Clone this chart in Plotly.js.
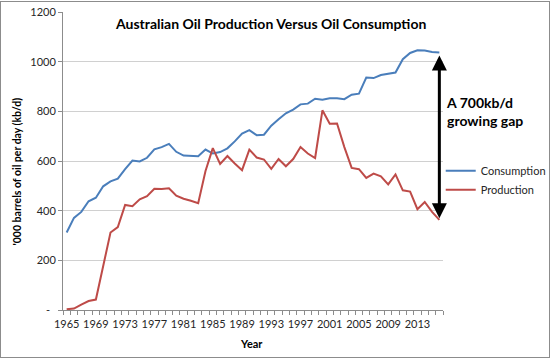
<!DOCTYPE html>
<html>
<head>
<meta charset="utf-8">
<script src="https://cdn.plot.ly/plotly-3.0.1.min.js"></script>
<style>
  html, body { margin: 0; padding: 0; background: #fff; }
  #wrap { position: relative; width: 552px; height: 360px; }
  #chart { width: 552px; height: 360px; }
  #frame { position: absolute; left: 0; top: 1px; width: 548px; height: 355px; border: 1px solid #8c8c8c; pointer-events: none; }
</style>
</head>
<body>
<div id="wrap"><div id="chart"></div><div id="frame"></div></div>
<script>
const years = [];
for (let y = 1965; y <= 2016; y++) years.push(y);

const consumption = [312, 371, 395, 438, 452, 498, 518, 529, 567, 602,
  598, 613, 647, 656, 669, 637, 622, 620, 619, 646,
  630, 636, 651, 679, 710, 724, 704, 706, 742, 768,
  792, 807, 828, 831, 851, 847, 853, 853, 849, 867,
  871, 936, 934, 946, 952, 956, 1010, 1035, 1046, 1045,
  1039, 1037];

const production = [3, 6, 22, 36, 42, 177, 312, 334, 423, 418,
  446, 458, 488, 487, 490, 460, 448, 440, 430, 560,
  652, 588, 620, 590, 563, 646, 614, 606, 568, 608,
  579, 608, 656, 630, 612, 804, 750, 751, 656, 572,
  567, 532, 549, 538, 506, 546, 482, 477, 406, 435,
  395, 363];

const xTickVals = [1965, 1969, 1973, 1977, 1981, 1985, 1989, 1993, 1997, 2001, 2005, 2009, 2013];
const yTickVals = [0, 200, 400, 600, 800, 1000, 1200];
const yTickText = ['-\u00a0\u00a0', '200', '400', '600', '800', '1000', '1200'];

const titleText = 'Australian Oil Production Versus Oil Consumption';
const gapText = 'A 700kb/d<br>growing gap';
const xTitle = 'Year';
const yTitle = "'000 barrels of oil per day (kb/d)";

const FONT = 'Lato, "Open Sans", sans-serif';
const TXT = '#262626';
const last = years.length - 1;

const traces = [
  { x: years, y: consumption, name: 'Consumption', type: 'scatter', mode: 'lines',
    line: { color: '#4A7EBB', width: 2 } },
  { x: years, y: production, name: 'Production', type: 'scatter', mode: 'lines',
    line: { color: '#BE4B48', width: 2 } }
];

const layout = {
  width: 552, height: 360,
  margin: { l: 63, r: 109, t: 12, b: 50, autoexpand: false },
  paper_bgcolor: '#fff', plot_bgcolor: '#fff',
  font: { family: FONT, color: TXT, size: 11 },
  showlegend: true,
  legend: { x: 0.994, xanchor: 'left', y: 0.435, yanchor: 'middle',
    font: { family: FONT, size: 11, color: TXT }, tracegroupgap: 0, itemwidth: 30,
    bgcolor: 'rgba(0,0,0,0)' },
  xaxis: {
    range: [1964.5, 2016.5], tickmode: 'array', tickvals: xTickVals, tickangle: 0,
    ticks: 'outside', ticklen: 4, tickcolor: 'rgba(0,0,0,0)',
    tickfont: { family: FONT, size: 11, color: TXT },
    showgrid: false, zeroline: false, showline: true, linecolor: '#8c8c8c', linewidth: 1,
    minor: { ticks: 'outside', tick0: 1964.5, dtick: 1, ticklen: 4, tickcolor: '#8c8c8c', showgrid: false },
    fixedrange: true
  },
  yaxis: {
    range: [0, 1200], tickmode: 'array', tickvals: yTickVals, ticktext: yTickText,
    ticks: 'outside', ticklen: 4, tickcolor: '#8c8c8c',
    tickfont: { family: FONT, size: 11, color: TXT },
    showgrid: true, gridcolor: '#d0d0d0', gridwidth: 1, zeroline: false,
    showline: true, linecolor: '#8c8c8c', linewidth: 1,
    fixedrange: true
  },
  annotations: [
    { text: '<b>' + titleText + '</b>', xref: 'paper', yref: 'paper', x: 0.546, y: 0.96,
      xanchor: 'center', yanchor: 'middle', showarrow: false,
      font: { family: FONT, size: 14, color: '#000' } },
    { text: '<b>' + xTitle + '</b>', xref: 'paper', yref: 'paper', x: 0.497, y: -0.112,
      xanchor: 'center', yanchor: 'middle', showarrow: false,
      font: { family: FONT, size: 11, color: '#000' } },
    { text: '<b>' + yTitle + '</b>', xref: 'paper', yref: 'paper', x: -0.121, y: 0.465,
      xanchor: 'center', yanchor: 'middle', showarrow: false, textangle: -90,
      font: { family: FONT, size: 10.5, color: '#000' } },
    { x: years[last], y: 1025, xref: 'x', yref: 'y', ax: years[last], ay: 363, axref: 'x', ayref: 'y',
      showarrow: true, arrowhead: 2, startarrowhead: 2, arrowside: 'end+start', arrowsize: 1,
      arrowwidth: 3, arrowcolor: '#000', standoff: 0, startstandoff: 0, text: '' },
    { text: '<b>' + gapText + '</b>', xref: 'paper', yref: 'paper', x: 1.003, y: 0.665,
      xanchor: 'left', yanchor: 'middle', align: 'left', showarrow: false,
      font: { family: FONT, size: 14, color: '#000' } }
  ]
};

Plotly.newPlot('chart', traces, layout, { displayModeBar: false, staticPlot: true });
</script>
</body>
</html>
